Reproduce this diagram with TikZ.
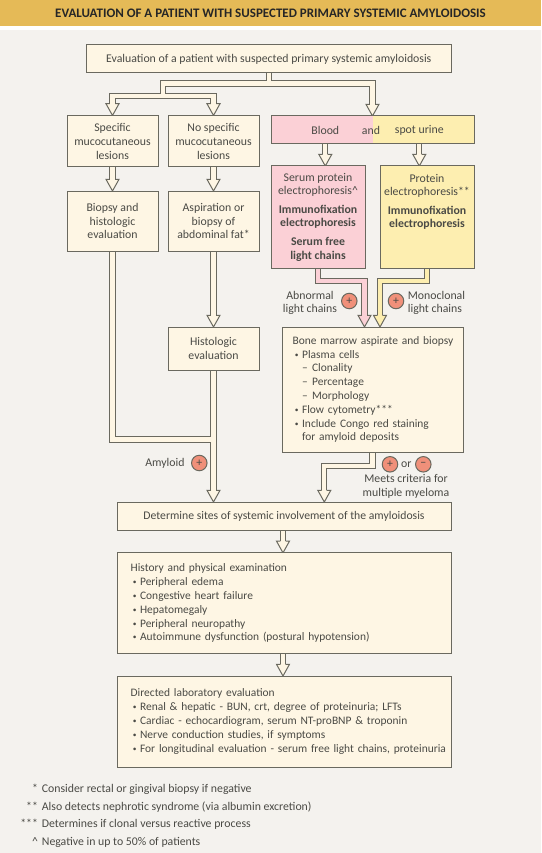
\documentclass[tikz,border=0pt]{standalone}
\usepackage{fontspec}
\setmainfont{Carlito}
\usetikzlibrary{backgrounds}

\definecolor{linegray}{HTML}{6A695F}
\definecolor{textgray}{HTML}{4A4A45}
\definecolor{cream}{HTML}{FEF6E4}
\definecolor{pagegray}{HTML}{F4F2EE}
\definecolor{gold}{HTML}{E5BA57}
\definecolor{rosepink}{HTML}{FBD0D6}
\definecolor{paleyellow}{HTML}{FDEEB0}
\definecolor{salmon}{HTML}{F0907A}

\newcommand{\bulletline}[1]{\mbox{\makebox[9.4pt][l]{\hspace{2.2pt}\raisebox{0.9pt}{\scalebox{0.65}{\textbullet}}}#1}}
\newcommand{\dashline}[1]{\mbox{\hspace*{9.4pt}\makebox[10pt][l]{--}#1}}
\newcommand{\plainline}[1]{\mbox{\hspace*{9.4pt}#1}}

\tikzset{
    box/.style={draw=linegray, fill=cream, line width=1pt, inner sep=0pt, outer sep=0pt, align=center, text=textgray},
    leftbox/.style={box, align=left, font=\fontsize{11.45}{13.8}\selectfont},
    lab/.style={text=textgray, inner sep=0pt, align=center},
    sign/.style={circle, draw=linegray, fill=salmon, line width=1pt, minimum size=15.5pt, inner sep=0pt, text=textgray},
    fatline/.style={preaction={draw=linegray, line width=6.2pt}, draw=#1, line width=4.2pt},
    fatline/.default=cream,
    fathead/.pic={
        \filldraw[pic actions, draw=linegray, line width=1pt]
            (-2.6,-11.7) -- (-6.5,-11.7) -- (0,0) -- (6.5,-11.7) -- (2.6,-11.7);
    }
}

\begin{document}
\begin{tikzpicture}[x=1pt, y=-1pt, font=\fontsize{11.8}{13.8}\selectfont]
    \useasboundingbox (0,0) rectangle (541,853);

    % Boxes of the top row
    \node[box, minimum width=364.5pt, minimum height=28pt] (top) at (268.8,59) {Evaluation of a patient with suspected primary systemic amyloidosis};
    \node[box, minimum width=91pt, minimum height=51.5pt] (spec) at (112.5,141.2) {Specific\\mucocutaneous\\lesions};
    \node[box, minimum width=91pt, minimum height=51.5pt] (nospec) at (213.5,141.2) {No specific\\mucocutaneous\\lesions};
    \node[box, minimum width=203pt, minimum height=28pt,
        path picture={
            \fill[rosepink] (path picture bounding box.north west) rectangle (path picture bounding box.south);
            \fill[paleyellow] (path picture bounding box.north) rectangle (path picture bounding box.south east);
        }] (blood) at (372.5,130) {};
    \node[lab] (bloodtext) at (325.3,130) {Blood};
    \node[lab] (andtext) at (371,130) {and};
    \node[lab] (urinetext) at (419.3,130) {spot urine};

    % Second row
    \node[box, minimum width=91pt, minimum height=60pt] (biop) at (112.5,221) {Biopsy and\\histologic\\evaluation};
    \node[box, minimum width=91pt, minimum height=60pt] (aspir) at (213.5,221) {Aspiration or\\biopsy of\\abdominal fat*};
    \node[box, fill=rosepink, minimum width=94pt, minimum height=102pt] (serum) at (318,217) {Serum protein\\electrophoresis\textasciicircum\\[4.5pt]\textbf{Immunofixation}\\\textbf{electrophoresis}\\[4.5pt]\textbf{Serum free}\\\textbf{light chains}};
    \node[box, fill=paleyellow, minimum width=94pt, minimum height=102pt] (protein) at (427,217) {Protein\\electrophoresis**\\[4.5pt]\textbf{Immunofixation}\\\textbf{electrophoresis}\\[4.5pt]~\\~};

    % Middle row
    \node[box, minimum width=91pt, minimum height=43pt] (hist) at (213.5,348.5) {Histologic\\evaluation};
    \node[leftbox, minimum width=181pt, minimum height=125pt, text width=159.6pt] (bone) at (372.5,389.5) {\mbox{Bone marrow aspirate and biopsy}\\
        \bulletline{Plasma cells}\\
        \dashline{Clonality}\\
        \dashline{Percentage}\\
        \dashline{Morphology}\\
        \bulletline{Flow cytometry***}\\
        \bulletline{Include Congo red staining}\\
        \plainline{for amyloid deposits}};

    % Lower boxes
    \node[box, minimum width=334pt, minimum height=28pt, font=\fontsize{11.7}{13.8}\selectfont] (sites) at (284,516) {Determine sites of systemic involvement of the amyloidosis};
    \node[leftbox, minimum width=334pt, minimum height=101pt, text width=306.6pt] (exam) at (284,603.3) {History and physical examination\\
        \bulletline{Peripheral edema}\\
        \bulletline{Congestive heart failure}\\
        \bulletline{Hepatomegaly}\\
        \bulletline{Peripheral neuropathy}\\
        \bulletline{Autoimmune dysfunction (postural hypotension)}};
    \node[leftbox, minimum width=334pt, minimum height=91pt, text width=306.6pt] (labs) at (284,721.5) {Directed laboratory evaluation\\
        \bulletline{Renal \& hepatic - BUN, crt, degree of proteinuria; LFTs}\\
        \bulletline{Cardiac - echocardiogram, serum NT-proBNP \& troponin}\\
        \bulletline{Nerve conduction studies, if symptoms}\\
        \bulletline{For longitudinal evaluation - serum free light chains, proteinuria}};

    % Labels and signs
    \node[lab] (abnormal) at (310,303) {Abnormal\\light chains};
    \node[sign] (plusa) at (349.3,301) {+};
    \node[sign] (plusb) at (396,301) {+};
    \node[lab, align=left, anchor=west] (monoclonal) at (407.7,303) {Monoclonal\\light chains};
    \node[lab, anchor=east] (amyloid) at (184.7,463) {Amyloid};
    \node[sign] (plusc) at (199.3,463) {+};
    \node[sign] (plusd) at (390,464.3) {+};
    \node[lab] (ortext) at (406.3,464.3) {or};
    \node[sign] (minusa) at (423.3,464.3) {−};
    \node[lab] (criteria) at (406,486.2) {Meets criteria for\\multiple myeloma};

    % Footnotes
    \node[lab, anchor=west] (noteone) at (41.7,789) {\llap{*\,\,}Consider rectal or gingival biopsy if negative};
    \node[lab, anchor=west] (notetwo) at (41.7,807) {\llap{**\,\,}Also detects nephrotic syndrome (via albumin excretion)};
    \node[lab, anchor=west] (notethree) at (41.7,824) {\llap{***\,\,}Determines if clonal versus reactive process};
    \node[lab, anchor=west] (notefour) at (41.7,842) {\llap{\textasciicircum\,\,}Negative in up to 50\% of patients};

    % Title band
    \node[inner sep=0pt, text=black!85, font=\fontsize{13}{16}\selectfont\bfseries] (title) at (270.5,13) {EVALUATION OF A PATIENT WITH SUSPECTED PRIMARY SYSTEMIC AMYLOIDOSIS};

    \begin{pgfonlayer}{background}
        \fill[pagegray] (0,30) rectangle (541,853);
        \fill[gold] (0,0) rectangle (541,26);

        \coordinate (splitr) at (372.5,83.5);
        \coordinate (splitl) at (163,83.5);
        \coordinate (bar) at (163,96);
        \coordinate (amyjoin) at (213.5,439.5);
        \coordinate (pinkbar) at (364.5,281);
        \coordinate (yellowbar) at (380,281);
        \coordinate (marrowbar) at (324.3,466);

        % Draw connectors
        \draw[fatline] (top.south) -- (top.south |- splitr)
            (bar) -- (splitl) -- (splitr) -- ([yshift=10pt]blood.north)
            ([yshift=10pt]spec.north) -- (spec.north |- bar) -- (nospec.north |- bar) -- ([yshift=10pt]nospec.north);
        \draw[fatline] (spec.south) -- ([yshift=10pt]biop.north);
        \draw[fatline] (nospec.south) -- ([yshift=10pt]aspir.north);
        \draw[fatline] (bloodtext |- blood.south) -- ([yshift=10pt]bloodtext |- serum.north);
        \draw[fatline] (urinetext |- blood.south) -- ([yshift=10pt]urinetext |- protein.north);
        \draw[fatline] (aspir.south) -- ([yshift=10pt]hist.north);
        \draw[fatline] (biop.south) |- (amyjoin)
            (hist.south) -- ([yshift=10pt]sites.north -| hist.south);
        \draw[fatline] (bone.south) |- (marrowbar) -- ([yshift=10pt]marrowbar |- sites.north);
        \draw[fatline] ([xshift=-1pt]sites.south) -- ([xshift=-1pt,yshift=10pt]exam.north);
        \draw[fatline] ([xshift=-1pt]exam.south) -- ([xshift=-1pt,yshift=10pt]labs.north);
        \draw[fatline=paleyellow] (protein.south) |- (yellowbar) -- ([yshift=10pt]yellowbar |- bone.north);
        \draw[fatline=rosepink] (serum.south) |- (pinkbar) -- ([yshift=10pt]pinkbar |- bone.north);

        % Draw arrow heads
        \pic[fill=cream] at (spec.north) {fathead};
        \pic[fill=cream] at (nospec.north) {fathead};
        \pic[fill=cream] at (blood.north) {fathead};
        \pic[fill=cream] at (bloodtext |- serum.north) {fathead};
        \pic[fill=cream] at (urinetext |- protein.north) {fathead};
        \pic[fill=cream] at (biop.north) {fathead};
        \pic[fill=cream] at (aspir.north) {fathead};
        \pic[fill=cream] at (hist.north) {fathead};
        \pic[fill=cream] at (sites.north -| hist.south) {fathead};
        \pic[fill=cream] at (marrowbar |- sites.north) {fathead};
        \pic[fill=cream] at ([xshift=-1pt]exam.north) {fathead};
        \pic[fill=cream] at ([xshift=-1pt]labs.north) {fathead};
        \pic[fill=paleyellow] at (yellowbar |- bone.north) {fathead};
        \pic[fill=rosepink] at (pinkbar |- bone.north) {fathead};
    \end{pgfonlayer}
\end{tikzpicture}
\end{document}
